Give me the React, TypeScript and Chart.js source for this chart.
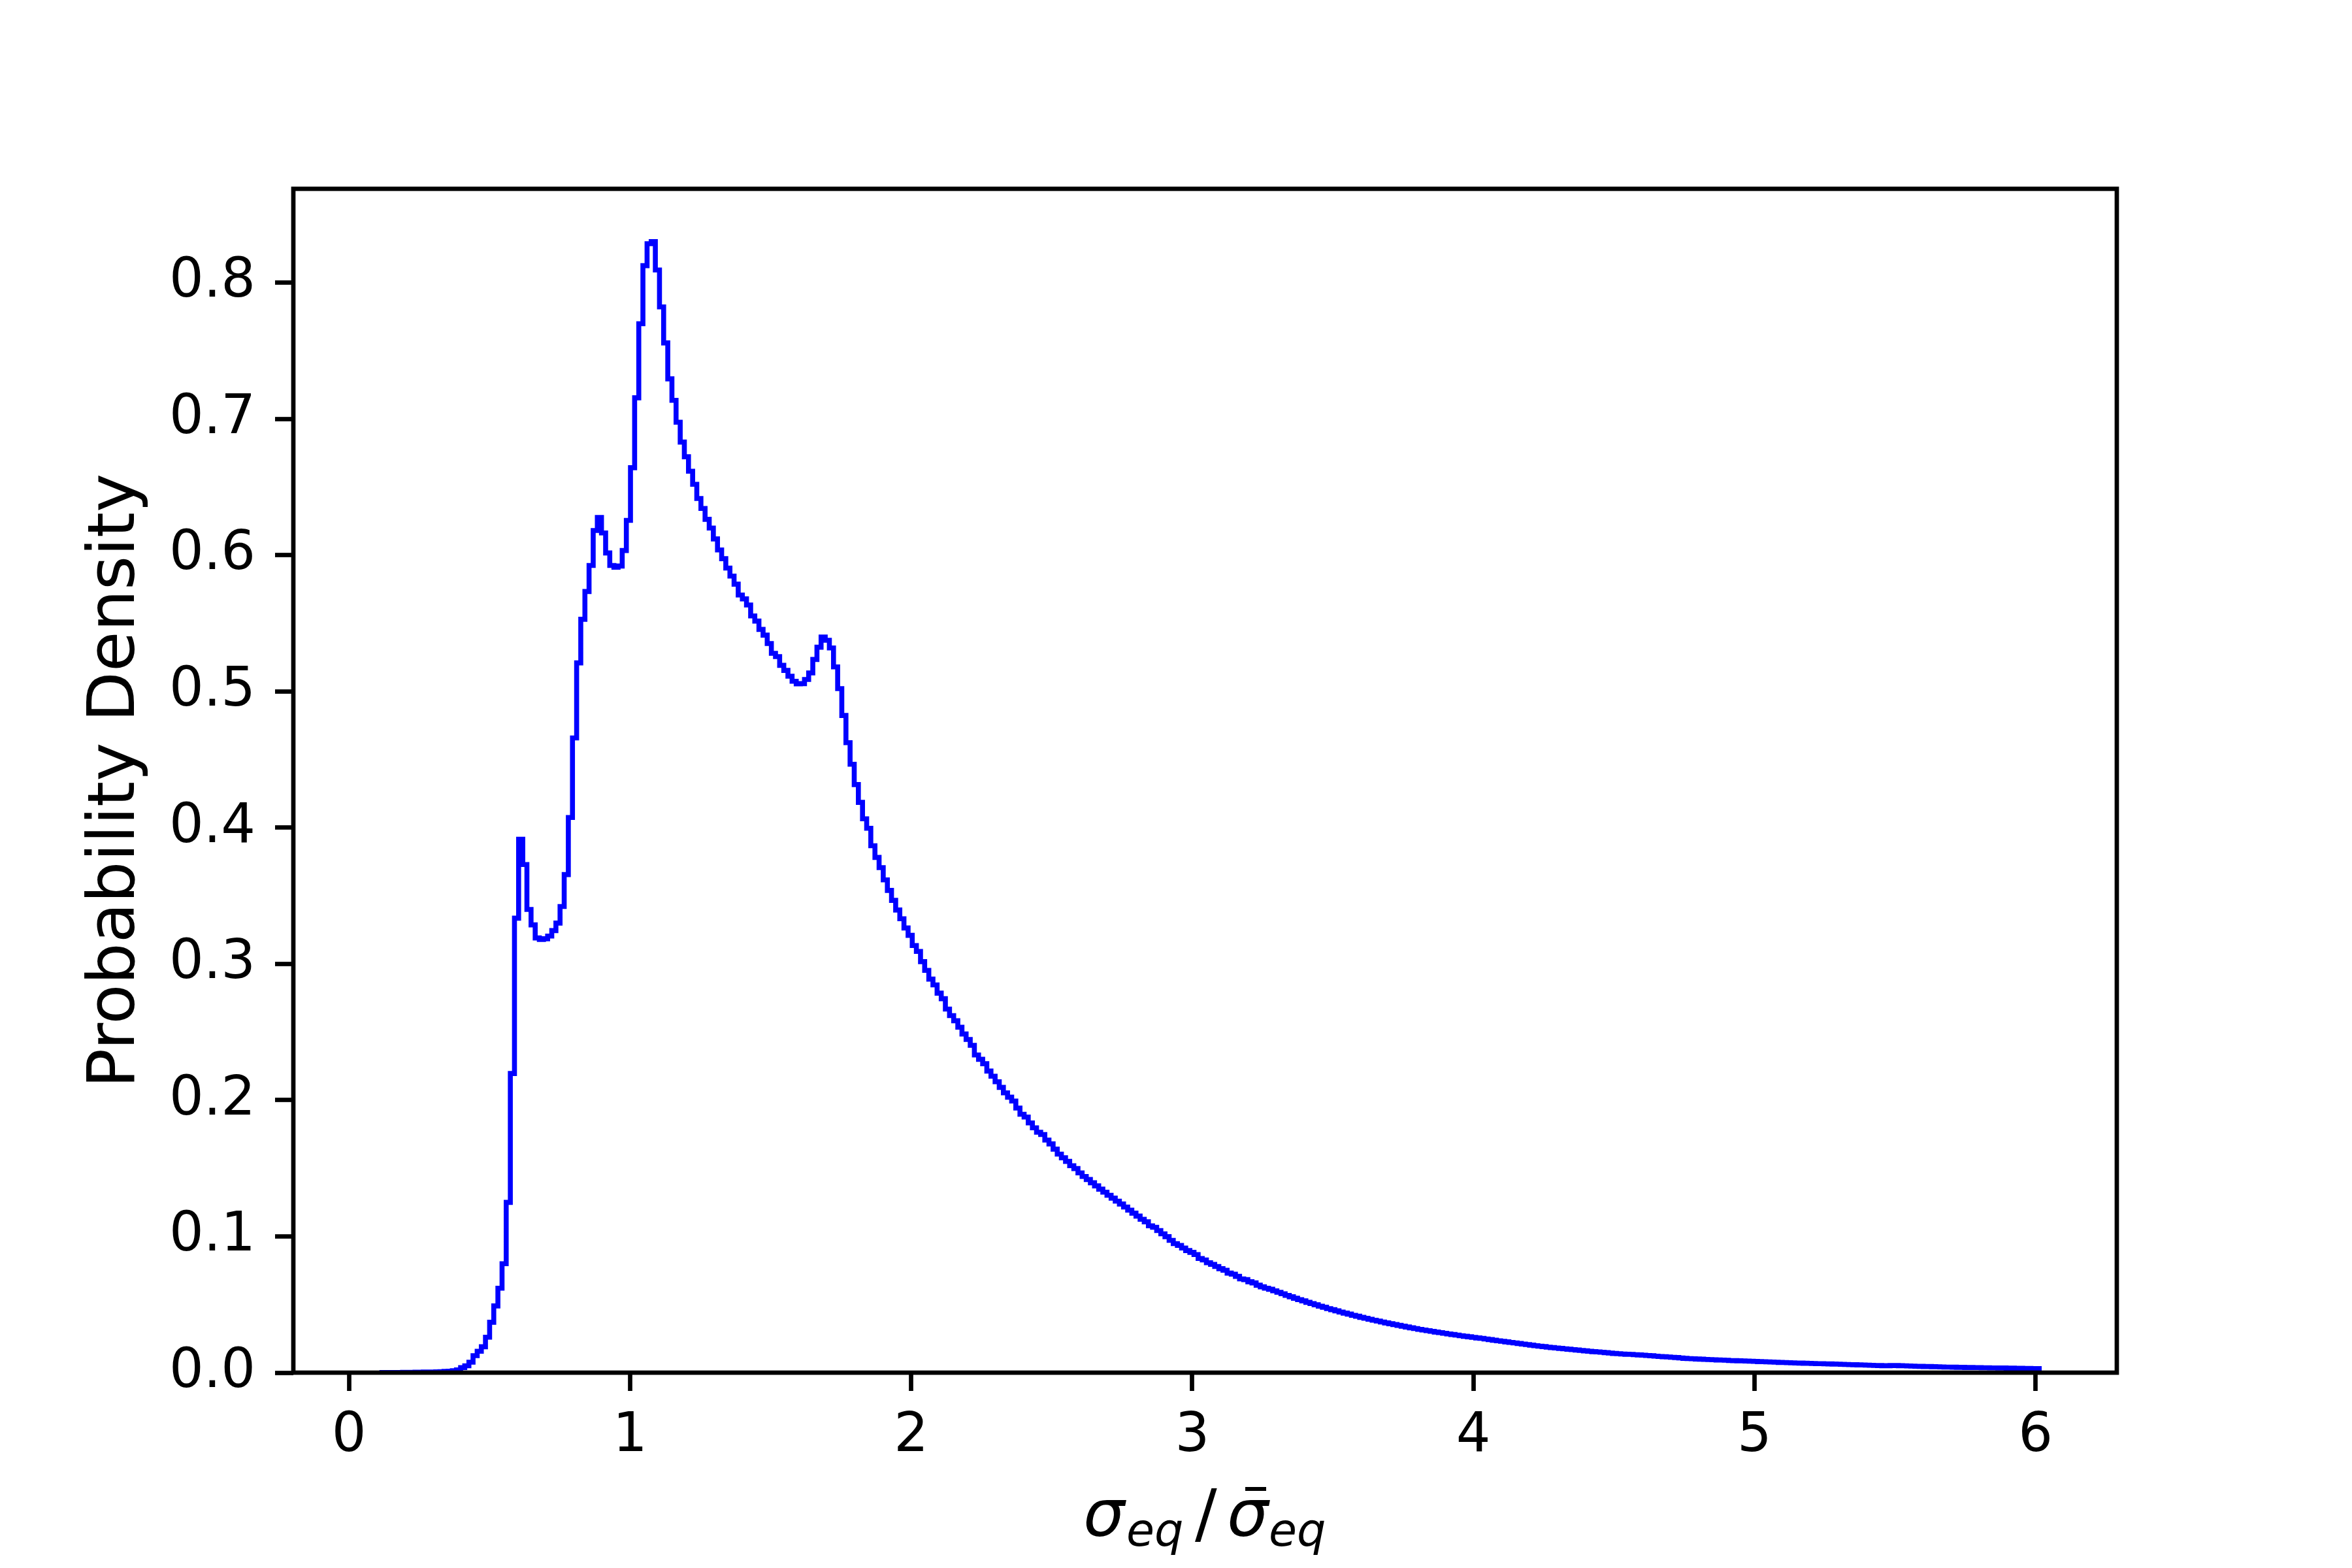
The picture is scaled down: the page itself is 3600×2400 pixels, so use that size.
import React, { useEffect, useRef } from "react";
import { Chart, registerables } from "chart.js";

Chart.register(...registerables);

// Histogram bins (step outline)
const binStart = 0.117;
const binWidth = 0.01474;

// bins 0-32: onset
const riseDensity = [
  0.0001, 0.0001, 0.0001, 0.0001, 0.0001, 0.0001, 0.0002, 0.0002, 0.0002, 0.0003,
  0.0003, 0.0004, 0.0004, 0.0005, 0.0006, 0.0007, 0.0009, 0.0011, 0.0014, 0.002,
  0.0037, 0.005, 0.0077, 0.0125, 0.0157, 0.019, 0.026, 0.037, 0.049, 0.062,
  0.08, 0.125, 0.2196,
];

// bins 33-80: first peaks and main peak
const peakDensity = [
  0.3336, 0.3915, 0.373, 0.34, 0.3287, 0.3191, 0.318, 0.3185, 0.3205, 0.3245,
  0.33, 0.3422, 0.3656, 0.4075, 0.4659, 0.521, 0.553, 0.5734, 0.5925, 0.6182,
  0.6277, 0.6164, 0.6017, 0.5925, 0.5912, 0.5921, 0.6035, 0.6256, 0.6643, 0.7156,
  0.77, 0.8126, 0.8287, 0.8302, 0.8094, 0.7823, 0.7559, 0.7295, 0.7137, 0.6977,
  0.6831, 0.6723, 0.6617, 0.6521, 0.6417, 0.6344, 0.6264, 0.62,
];

// bins 81-118: shoulder with bump near 1.7
const shoulderDensity = [
  0.612, 0.6039, 0.5975, 0.5906, 0.5847, 0.5788, 0.5708, 0.568, 0.5635, 0.5555,
  0.5517, 0.5456, 0.5414, 0.5352, 0.528, 0.5256, 0.5192, 0.5155, 0.5112, 0.5075,
  0.5056, 0.5058, 0.5088, 0.5136, 0.5235, 0.5325, 0.54, 0.5376, 0.532, 0.5181,
  0.5021, 0.4824, 0.4624, 0.4466, 0.4317, 0.4186, 0.4066, 0.3996,
];

// bins 119-170: fall
const fallDensity = [
  0.3868, 0.3782, 0.3707, 0.3617, 0.354, 0.3467, 0.3396, 0.3332, 0.3264, 0.321,
  0.3135, 0.3092, 0.3017, 0.2953, 0.2889, 0.2846, 0.2786, 0.2745, 0.2669, 0.2621,
  0.2583, 0.2536, 0.2486, 0.2446, 0.2403, 0.2332, 0.23, 0.2268, 0.2214, 0.2176,
  0.2135, 0.2094, 0.2054, 0.2022, 0.1994, 0.1942, 0.1897, 0.1876, 0.1833, 0.1797,
  0.1765, 0.1748, 0.1707, 0.1679, 0.1641, 0.1604, 0.1577, 0.1551, 0.1519, 0.1498,
  0.1466, 0.144,
];

// bins 171-215: decay
const decayDensity = [
  0.1418, 0.1394, 0.1371, 0.1347, 0.1325, 0.1302, 0.1281, 0.1259, 0.1238, 0.1216,
  0.1193, 0.1171, 0.1149, 0.1126, 0.1107, 0.1078, 0.1067, 0.1043, 0.1019, 0.0998,
  0.0971, 0.0947, 0.0934, 0.0915, 0.0896, 0.0883, 0.0867, 0.0838, 0.0827, 0.0807,
  0.0795, 0.0779, 0.0763, 0.0752, 0.0731, 0.0723, 0.0707, 0.0688, 0.0683, 0.0667,
  0.0659, 0.0642, 0.063, 0.062, 0.0612,
];

// bins 216-399: long tail
const tailDensity = [
  0.0601, 0.059, 0.0579, 0.0567, 0.0557, 0.0546, 0.0536, 0.0527, 0.0516, 0.0507,
  0.0498, 0.0488, 0.048, 0.047, 0.0462, 0.0454, 0.0445, 0.0437, 0.043, 0.0421,
  0.0414, 0.0406, 0.0399, 0.0392, 0.0385, 0.0379, 0.0372, 0.0365, 0.0359, 0.0353,
  0.0347, 0.0341, 0.0335, 0.0329, 0.0324, 0.0318, 0.0313, 0.0308, 0.0303, 0.0298,
  0.0294, 0.0289, 0.0284, 0.028, 0.0276, 0.0271, 0.0267, 0.0263, 0.0259, 0.0255,
  0.0252, 0.0247, 0.0243, 0.0238, 0.0234, 0.023, 0.0226, 0.0222, 0.0218, 0.0214,
  0.021, 0.0206, 0.0202, 0.0198, 0.0194, 0.0191, 0.0187, 0.0184, 0.0181, 0.0178,
  0.0175, 0.0172, 0.0169, 0.0166, 0.0163, 0.016, 0.0157, 0.0154, 0.0152, 0.015,
  0.0147, 0.0144, 0.0141, 0.0139, 0.0137, 0.0135, 0.0134, 0.0132, 0.013, 0.0128,
  0.0126, 0.0124, 0.0121, 0.0119, 0.0117, 0.0115, 0.0113, 0.0111, 0.0108, 0.0105,
  0.0103, 0.0102, 0.01, 0.0099, 0.0097, 0.0096, 0.0095, 0.0093, 0.0092, 0.0091,
  0.0089, 0.0088, 0.0087, 0.0086, 0.0085, 0.0084, 0.0083, 0.0081, 0.008, 0.0079,
  0.0078, 0.0077, 0.0075, 0.0074, 0.0073, 0.0072, 0.0071, 0.007, 0.0069, 0.0068,
  0.0067, 0.0066,
  0.0066, 0.0065, 0.0064, 0.0063, 0.0062, 0.0061, 0.006, 0.0059, 0.0058, 0.0057,
  0.0056, 0.0055, 0.0054, 0.0053, 0.0052, 0.0051, 0.005, 0.0052, 0.0052, 0.0051,
  0.005, 0.0049, 0.0048, 0.0047, 0.0046, 0.0045, 0.0045, 0.0044, 0.0043, 0.0042,
  0.0041, 0.0041, 0.004, 0.0039, 0.0039, 0.0038, 0.0038, 0.0037, 0.0037, 0.0036,
  0.0036, 0.0035, 0.0035, 0.0034, 0.0034, 0.0033, 0.0033, 0.0032, 0.0032, 0.0031,
  0.0031, 0.003,
];

const xTickValues = [0, 1, 2, 3, 4, 5, 6];
const yTickValues = [0, 0.1, 0.2, 0.3, 0.4, 0.5, 0.6, 0.7, 0.8];
const yAxisLabel = "Probability Density";

const FONT = "'DejaVu Sans', 'Liberation Sans', sans-serif";

export default function App() {
  const canvasRef = useRef<HTMLCanvasElement | null>(null);

  useEffect(() => {
    document.body.style.margin = "0";
    const canvas = canvasRef.current;
    if (!canvas) return;

    const density = [
      ...riseDensity,
      ...peakDensity,
      ...shoulderDensity,
      ...fallDensity,
      ...decayDensity,
      ...tailDensity,
    ];
    const points: { x: number; y: number }[] = [{ x: binStart, y: 0 }];
    density.forEach((v, i) => points.push({ x: binStart + i * binWidth, y: v }));
    const endEdge = binStart + density.length * binWidth;
    points.push({ x: endEdge, y: density[density.length - 1] });
    points.push({ x: endEdge, y: 0 });

    const framePlugin = {
      id: "frameAndLabels",
      afterDatasetsDraw(chart: any) {
        const { ctx, chartArea } = chart;
        ctx.save();
        ctx.strokeStyle = "#000000";
        ctx.lineWidth = 6.7;
        ctx.lineJoin = "miter";
        ctx.strokeRect(
          chartArea.left,
          chartArea.top,
          chartArea.right - chartArea.left,
          chartArea.bottom - chartArea.top
        );
        ctx.restore();
      },
      afterDraw(chart: any) {
        const { ctx } = chart;
        ctx.save();
        ctx.fillStyle = "#000000";
        // y-axis label
        ctx.save();
        ctx.translate(205, 1195);
        ctx.rotate(-Math.PI / 2);
        ctx.font = `100px ${FONT}`;
        ctx.textAlign = "center";
        ctx.textBaseline = "alphabetic";
        ctx.fillText(yAxisLabel, 0, 0);
        ctx.restore();

        // x-axis label: sigma_eq / bar(sigma)_eq
        ctx.textAlign = "left";
        ctx.textBaseline = "alphabetic";
        const base = 2351;
        const subBase = 2366;
        ctx.font = `italic 100px ${FONT}`;
        ctx.fillText("σ", 1658, base);
        ctx.font = `italic 70px ${FONT}`;
        ctx.fillText("eq", 1724, subBase);
        ctx.font = `100px ${FONT}`;
        ctx.fillText("/", 1829, base);
        ctx.font = `italic 100px ${FONT}`;
        ctx.fillText("σ", 1878, base);
        ctx.fillRect(1906, 2276, 32, 6);
        ctx.font = `italic 70px ${FONT}`;
        ctx.fillText("eq", 1942, subBase);
        ctx.restore();
      },
    };

    const chart = new Chart(canvas, {
      type: "line",
      data: {
        datasets: [
          {
            data: points,
            borderColor: "#0000ff",
            borderWidth: 7.6,
            stepped: "after",
            pointRadius: 0,
            pointHoverRadius: 0,
            fill: false,
            tension: 0,
            borderJoinStyle: "miter",
            borderCapStyle: "butt",
          } as any,
        ],
      },
      options: {
        animation: false,
        responsive: false,
        devicePixelRatio: 1,
        events: [],
        layout: { padding: { left: 0, right: 360, top: 289, bottom: 0 } },
        plugins: {
          legend: { display: false },
          tooltip: { enabled: false },
          title: { display: false },
        },
        scales: {
          x: {
            type: "linear",
            min: -0.198,
            max: 6.289,
            afterFit: (s: any) => {
              s.height = 2400 - 2101;
            },
            afterBuildTicks: (s: any) => {
              s.ticks = xTickValues.map((v) => ({ value: v }));
            },
            border: { display: false },
            grid: {
              drawOnChartArea: false,
              drawTicks: true,
              tickLength: 28,
              tickWidth: 6.7,
              tickColor: "#000000",
            },
            ticks: {
              color: "#000000",
              padding: 21,
              maxRotation: 0,
              autoSkip: false,
              font: { family: FONT, size: 83 },
              callback: (v: any) => String(v),
            },
          },
          y: {
            type: "linear",
            min: 0,
            max: 0.869,
            afterFit: (s: any) => {
              s.width = 449;
            },
            afterBuildTicks: (s: any) => {
              s.ticks = yTickValues.map((v) => ({ value: v }));
            },
            border: { display: false },
            grid: {
              drawOnChartArea: false,
              drawTicks: true,
              tickLength: 28,
              tickWidth: 6.7,
              tickColor: "#000000",
            },
            ticks: {
              color: "#000000",
              padding: 30,
              autoSkip: false,
              font: { family: FONT, size: 83 },
              callback: (v: any) => Number(v).toFixed(1),
            },
          },
        },
      },
      plugins: [framePlugin],
    } as any);

    return () => chart.destroy();
  }, []);

  return (
    <div style={{ width: 3600, height: 2400, background: "#ffffff" }}>
      <canvas
        ref={canvasRef}
        width={3600}
        height={2400}
        style={{ display: "block", width: 3600, height: 2400 }}
      />
    </div>
  );
}
